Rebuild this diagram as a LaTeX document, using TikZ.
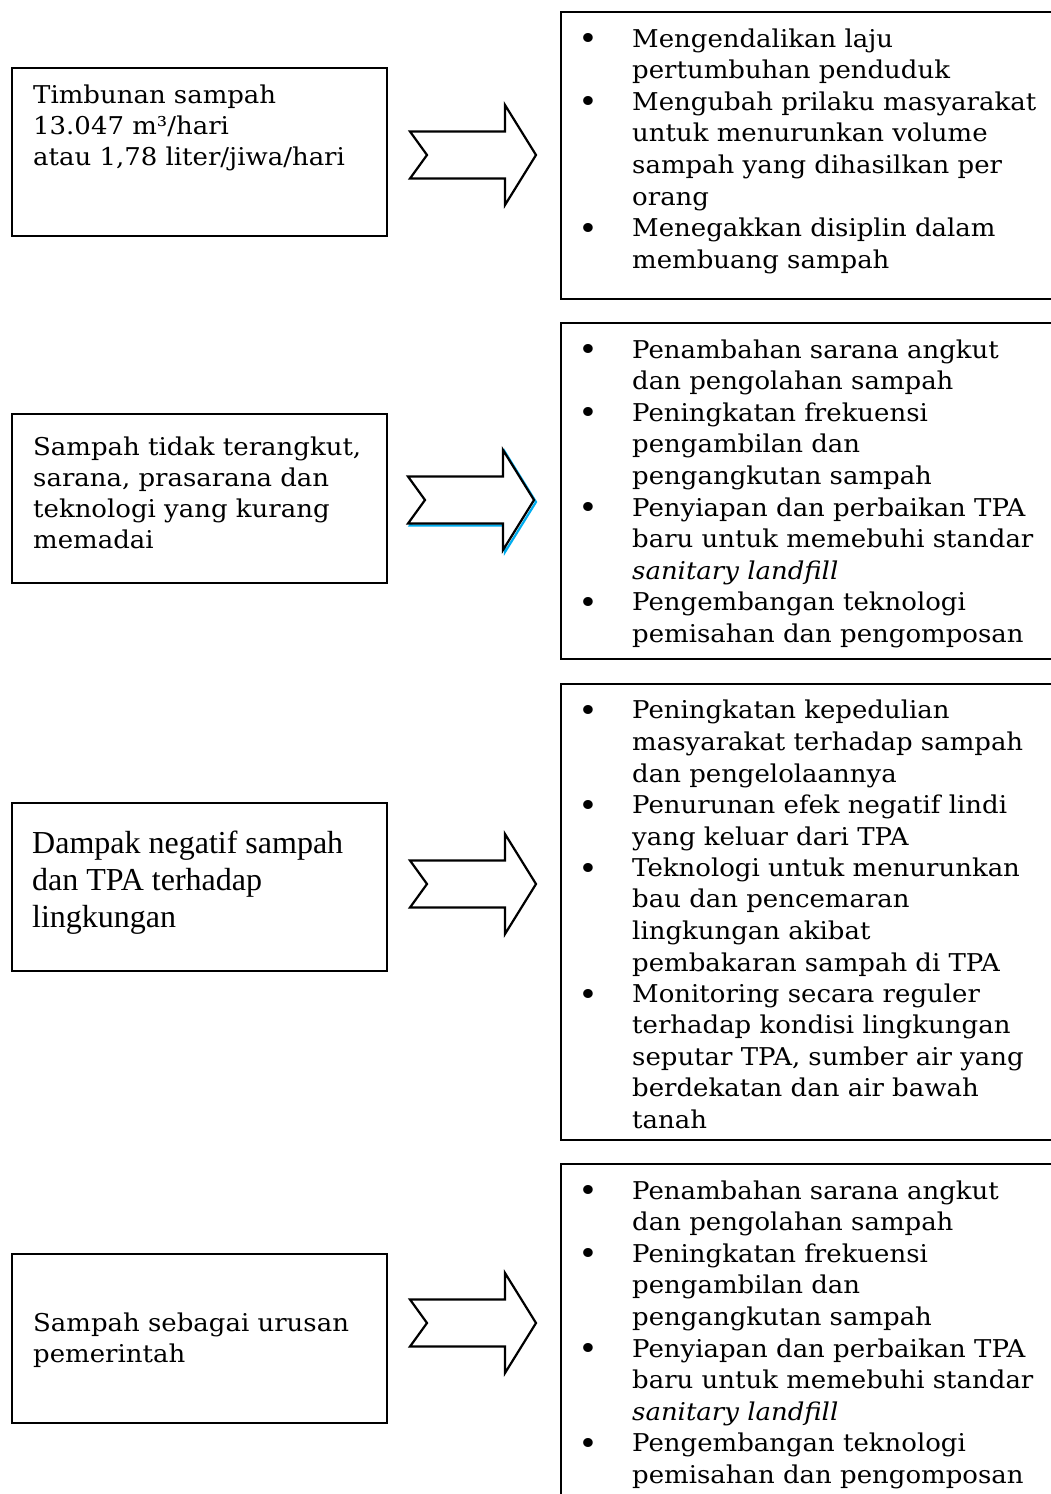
\documentclass[tikz,border=0pt]{standalone}
\usepackage{fontspec}
\newfontfamily\bk[FakeStretch=1.06]{DejaVu Serif}
\newfontfamily\tm{Liberation Serif}
\usetikzlibrary{calc}
\newcommand{\bigarrow}[2][]{%
  \draw[arrowline,#1] ($(#2)+(0,-23.5)$) -- ++(95,0) -- ++(0,-26.5) -- ++(31,50)
    -- ++(-31,50) -- ++(0,-26.5) -- ++(-95,0) -- ++(17,-23.5) -- cycle;}
\begin{document}
\begin{tikzpicture}[x=1pt,y=-1pt,
  box/.style={draw, line width=1.6pt, inner sep=0pt, anchor=north west},
  arrowline/.style={draw, line width=2.2pt, line join=miter, fill=white},
  txt/.style={anchor=base west, inner sep=0pt, align=left,
    font=\bk\fontsize{24.5}{31.6}\selectfont},
  ltxt/.style={txt, font=\bk\fontsize{24.5}{31}\selectfont},
  bul/.style={anchor=base, inner sep=0pt, yshift=-2.5pt, font=\bk\fontsize{31}{31.6}\selectfont},
  tms/.style={anchor=base west, inner sep=0pt, align=left,
    font=\tm\fontsize{32}{37}\selectfont}]
\useasboundingbox (0,0) rectangle (1051,1494);
% left boxes
\node[box, minimum width=375, minimum height=168] (L1) at (11,67) {};
\node[box, minimum width=375, minimum height=169] (L2) at (11,413) {};
\node[box, minimum width=375, minimum height=168] (L3) at (11,802) {};
\node[box, minimum width=375, minimum height=169] (L4) at (11,1253) {};
% right boxes
\node[box, minimum width=494, minimum height=287] (R1) at (560,11) {};
\node[box, minimum width=494, minimum height=336] (R2) at (560,322) {};
\node[box, minimum width=494, minimum height=456] (R3) at (560,683) {};
\node[box, minimum width=494, minimum height=345] (R4) at (560,1163) {};
% left texts (positioned at the baseline of the last line)
\node[ltxt] (t1) at (33,165) {Timbunan sampah\\13.047 m³/hari\\atau 1,78 liter/jiwa/hari};
\node[ltxt] (t2) at (33,548) {Sampah tidak terangkut,\\sarana, prasarana dan\\teknologi yang kurang\\memadai};
\node[tms] (t3) at (32,927) {Dampak negatif sampah\\dan TPA terhadap\\lingkungan};
\node[ltxt] (t4) at (33,1362) {Sampah sebagai urusan\\pemerintah};
% arrows
\coordinate (a1) at (410,155);
\coordinate (a2) at (408,500);
\coordinate (a2s) at (410,502);
\coordinate (a3) at (410,884);
\coordinate (a4) at (410,1323);
\bigarrow{a1}
\bigarrow[draw=cyan]{a2s}
\bigarrow{a2}
\bigarrow{a3}
\bigarrow{a4}
% right box 1
\node[bul] (b11) at (588,47) {•};
\node[txt] (r11) at (632,78.6) {Mengendalikan laju\\pertumbuhan penduduk};
\node[bul] (b12) at (588,110.2) {•};
\node[txt] (r12) at (632,205) {Mengubah prilaku masyarakat\\untuk menurunkan volume\\sampah yang dihasilkan per\\orang};
\node[bul] (b13) at (588,236.6) {•};
\node[txt] (r13) at (632,268.2) {Menegakkan disiplin dalam\\membuang sampah};
% right box 2
\node[bul] (b21) at (588,358) {•};
\node[txt] (r21) at (632,389.6) {Penambahan sarana angkut\\dan pengolahan sampah};
\node[bul] (b22) at (588,421.2) {•};
\node[txt] (r22) at (632,484.4) {Peningkatan frekuensi\\pengambilan dan\\pengangkutan sampah};
\node[bul] (b23) at (588,516) {•};
\node[txt] (r23) at (632,579.2) {Penyiapan dan perbaikan TPA\\baru untuk memebuhi standar\\\textit{sanitary landfill}};
\node[bul] (b24) at (588,610.8) {•};
\node[txt] (r24) at (632,642.4) {Pengembangan teknologi\\pemisahan dan pengomposan};
% right box 3
\node[bul] (b31) at (588,719) {•};
\node[txt] (r31) at (632,782) {Peningkatan kepedulian\\masyarakat terhadap sampah\\dan pengelolaannya};
\node[bul] (b32) at (588,813.5) {•};
\node[txt] (r32) at (632,845) {Penurunan efek negatif lindi\\yang keluar dari TPA};
\node[bul] (b33) at (588,876.5) {•};
\node[txt] (r33) at (632,971) {Teknologi untuk menurunkan\\bau dan pencemaran\\lingkungan akibat\\pembakaran sampah di TPA};
\node[bul] (b34) at (588,1002.5) {•};
\node[txt] (r34) at (632,1128.5) {Monitoring secara reguler\\terhadap kondisi lingkungan\\seputar TPA, sumber air yang\\berdekatan dan air bawah\\tanah};
% right box 4
\node[bul] (b41) at (588,1199) {•};
\node[txt] (r41) at (632,1230.6) {Penambahan sarana angkut\\dan pengolahan sampah};
\node[bul] (b42) at (588,1262.2) {•};
\node[txt] (r42) at (632,1325.4) {Peningkatan frekuensi\\pengambilan dan\\pengangkutan sampah};
\node[bul] (b43) at (588,1357) {•};
\node[txt] (r43) at (632,1420.2) {Penyiapan dan perbaikan TPA\\baru untuk memebuhi standar\\\textit{sanitary landfill}};
\node[bul] (b44) at (588,1451.8) {•};
\node[txt] (r44) at (632,1483.4) {Pengembangan teknologi\\pemisahan dan pengomposan};
\end{tikzpicture}
\end{document}
